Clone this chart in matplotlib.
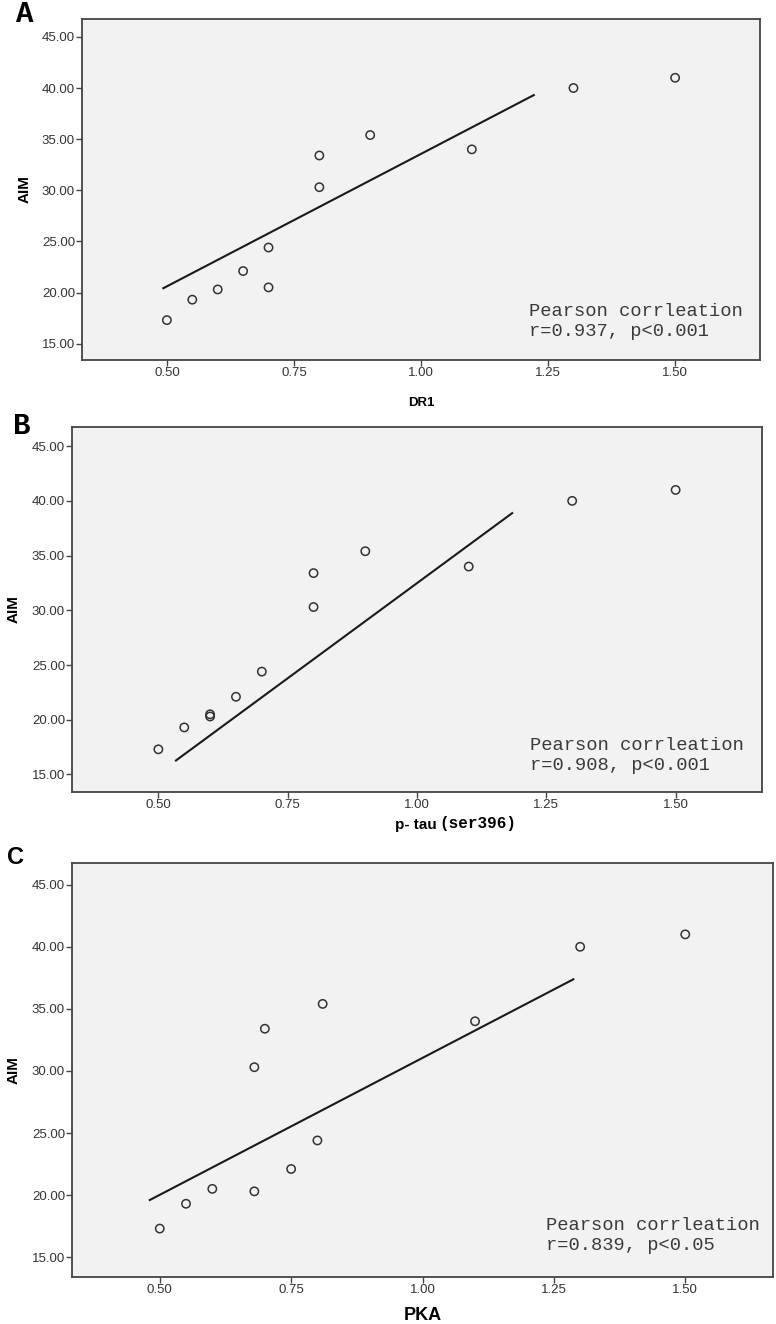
import matplotlib.pyplot as plt
import matplotlib as mpl

mpl.rcParams['font.family'] = ['Liberation Sans', 'DejaVu Sans']

# panel A: DR1 vs AIM
dr1 = [0.50, 0.55, 0.60, 0.65, 0.70, 0.70, 0.80, 0.80, 0.90, 1.10, 1.30, 1.50]
aim_a = [17.3, 19.3, 20.3, 22.1, 20.5, 24.4, 30.3, 33.4, 35.4, 34.0, 40.0, 41.0]
line_a_x = [0.493, 1.222]
line_a_y = [20.42, 39.31]

# panel B: p-tau (ser396) vs AIM
ptau = [0.50, 0.55, 0.60, 0.60, 0.65, 0.70, 0.80, 0.80, 0.90, 1.10, 1.30, 1.50]
aim_b = [17.3, 19.3, 20.3, 20.5, 22.1, 24.4, 30.3, 33.4, 35.4, 34.0, 40.0, 41.0]
line_b_x = [0.534, 1.184]
line_b_y = [16.28, 38.88]

# panel C: PKA vs AIM
pka = [0.50, 0.55, 0.60, 0.68, 0.75, 0.80, 0.68, 0.70, 0.81, 1.10, 1.30, 1.50]
aim_c = [17.3, 19.3, 20.5, 20.3, 22.1, 24.4, 30.3, 33.4, 35.4, 34.0, 40.0, 41.0]
line_c_x = [0.481, 1.287]
line_c_y = [19.60, 37.38]

stats = ["Pearson corrleation\nr=0.937, p<0.001",
         "Pearson corrleation\nr=0.908, p<0.001",
         "Pearson corrleation\nr=0.839, p<0.05"]

xticks = [0.50, 0.75, 1.00, 1.25, 1.50]
yticks = [15, 20, 25, 30, 35, 40, 45]

W, H = 776, 1324
fig = plt.figure(figsize=(W / 100, H / 100), dpi=100)

def px_axes(left, right, top, bottom):
  return fig.add_axes([left / W, 1 - bottom / H, (right - left) / W, (bottom - top) / H])

def style(ax):
  ax.set_facecolor('#f2f2f2')
  ax.set_xlim(0.333, 1.667)
  ax.set_ylim(13.4, 46.75)
  ax.set_xticks(xticks)
  ax.set_xticklabels([f"{v:.2f}" for v in xticks])
  ax.set_yticks(yticks)
  ax.set_yticklabels([f"{v:.2f}" for v in yticks])
  for s in ax.spines.values():
    s.set_color('#444444')
    s.set_linewidth(1.3)
  ax.tick_params(direction='out', length=4, width=1, colors='#444444',
                 labelsize=9.5, labelcolor='#333333', pad=1)
  ax.set_ylabel('AIM', fontsize=11, fontweight='bold',
                family=['Liberation Sans Narrow', 'Liberation Sans'])
  ax.yaxis.set_label_coords(-0.074, 0.5)

panels = [
  (px_axes(82, 760, 19, 360), dr1, aim_a, line_a_x, line_a_y, stats[0], (0.659, 0.113)),
  (px_axes(72, 762, 427, 792), ptau, aim_b, line_b_x, line_b_y, stats[1], (0.664, 0.099)),
  (px_axes(72, 773, 863, 1277), pka, aim_c, line_c_x, line_c_y, stats[2], (0.676, 0.101)),
]

for ax, x, y, lx, ly, txt, pos in panels:
  style(ax)
  ax.plot(lx, ly, color='#1a1a1a', linewidth=1.5, zorder=2)
  ax.scatter(x, y, s=36, facecolors='none', edgecolors='#333333', linewidths=1.1, zorder=3)
  ax.text(pos[0], pos[1], txt, transform=ax.transAxes, ha='left', va='center',
          family=['Liberation Mono', 'DejaVu Sans Mono'], fontsize=13.5,
          color='#3a3a3a', linespacing=1.25)

ax_a, ax_b, ax_c = panels[0][0], panels[1][0], panels[2][0]

ax_a.set_xlabel('DR1', fontsize=9.5, fontweight='bold')
ax_a.xaxis.set_label_coords(0.5, -0.108)

ax_b.text(0.528, -0.07, 'p- tau', transform=ax_b.transAxes, ha='right', va='top',
          fontsize=11, fontweight='bold')
ax_b.text(0.533, -0.066, '(ser396)', transform=ax_b.transAxes, ha='left', va='top',
          fontsize=11.5, fontweight='bold', family=['Liberation Mono', 'DejaVu Sans Mono'])

ax_c.set_xlabel('PKA', fontsize=13, fontweight='bold')
ax_c.xaxis.set_label_coords(0.5, -0.072)

fig.text(25 / W, 1 - 14 / H, 'A', ha='center', va='center', fontsize=21,
         fontweight='bold', family=['Liberation Mono', 'DejaVu Sans Mono'])
fig.text(21.5 / W, 1 - 426 / H, 'B', ha='center', va='center', fontsize=21,
         fontweight='bold', family=['Liberation Mono', 'DejaVu Sans Mono'])
fig.text(15.5 / W, 1 - 858 / H, 'C', ha='center', va='center', fontsize=17,
         fontweight='bold')

fig.savefig('out.png', dpi=100)
